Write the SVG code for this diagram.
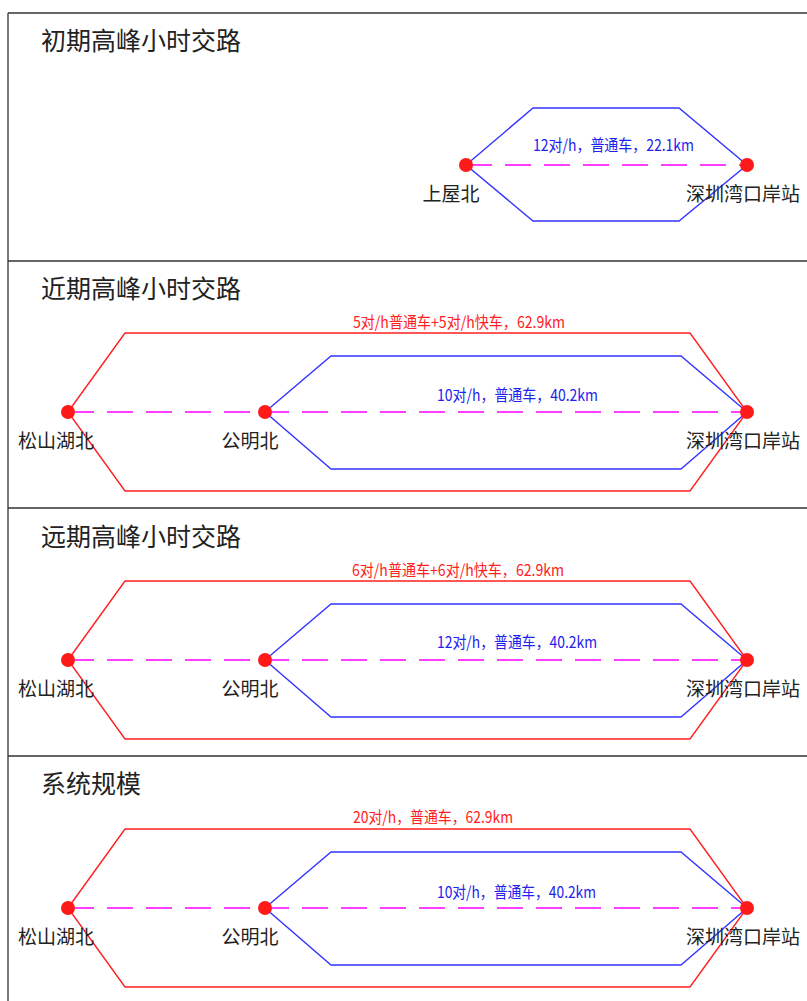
<svg xmlns="http://www.w3.org/2000/svg" width="807" height="1001" viewBox="0 0 807 1001">
<style>
.frame{stroke:#333;stroke-width:1.3;fill:none}
.red{stroke:#ff1f1f;stroke-width:1.4;fill:none}
.blue{stroke:#3535ff;stroke-width:1.4;fill:none}
.dash{stroke:#ff00ff;stroke-width:1.5;stroke-dasharray:26 13;fill:none}
.dot{fill:#ff1a1a}
.title{font-family:"Noto Sans CJK SC",sans-serif;font-size:25px;fill:#222}
.stn{font-family:"Noto Sans CJK SC",sans-serif;font-size:19px;fill:#222;text-anchor:middle}
.lr{font-family:"Noto Sans CJK SC",sans-serif;font-size:16px;fill:#ff2020}
.lb{font-family:"Noto Sans CJK SC",sans-serif;font-size:16px;fill:#2222ee}
</style>
<rect width="807" height="1001" fill="#fff"/>
<g id="frame">
<line class="frame" x1="8" y1="13" x2="807" y2="13"/>
<line class="frame" x1="8" y1="261" x2="807" y2="261"/>
<line class="frame" x1="8" y1="508" x2="807" y2="508"/>
<line class="frame" x1="8" y1="756" x2="807" y2="756"/>
<line class="frame" x1="8" y1="13" x2="8" y2="1001"/>
</g>
<g id="titles">
<text class="title" x="41" y="50">初期高峰小时交路</text>
<text class="title" x="41" y="298">近期高峰小时交路</text>
<text class="title" x="41" y="546">远期高峰小时交路</text>
<text class="title" x="41" y="793">系统规模</text>
</g>
<g id="connectors">
<polygon class="blue" points="466,165 533,108 679,108 747,165 679,221 533,221"/>
<line class="dash" x1="466" y1="165" x2="747" y2="165"/>
<polygon class="red" points="68,412 125,333 690,333 747,412 690,491 125,491"/>
<polygon class="blue" points="265,412 331,356 681,356 747,412 681,469 331,469"/>
<line class="dash" x1="68" y1="412" x2="747" y2="412"/>
<polygon class="red" points="68,660 125,581 690,581 747,660 690,739 125,739"/>
<polygon class="blue" points="265,660 331,604 681,604 747,660 681,717 331,717"/>
<line class="dash" x1="68" y1="660" x2="747" y2="660"/>
<polygon class="red" points="68,908 125,829 690,829 747,908 690,987 125,987"/>
<polygon class="blue" points="265,908 331,852 681,852 747,908 681,965 331,965"/>
<line class="dash" x1="68" y1="908" x2="747" y2="908"/>
</g>
<g id="route-labels">
<text class="lb" x="533" y="151" textLength="161" lengthAdjust="spacingAndGlyphs">12对/h，普通车，22.1km</text>
<text class="lr" x="353" y="328" textLength="212" lengthAdjust="spacingAndGlyphs">5对/h普通车+5对/h快车，62.9km</text>
<text class="lb" x="437" y="401" textLength="161" lengthAdjust="spacingAndGlyphs">10对/h，普通车，40.2km</text>
<text class="lr" x="352" y="576" textLength="212" lengthAdjust="spacingAndGlyphs">6对/h普通车+6对/h快车，62.9km</text>
<text class="lb" x="437" y="648" textLength="160" lengthAdjust="spacingAndGlyphs">12对/h，普通车，40.2km</text>
<text class="lr" x="353" y="823" textLength="160" lengthAdjust="spacingAndGlyphs">20对/h，普通车，62.9km</text>
<text class="lb" x="437" y="898" textLength="159" lengthAdjust="spacingAndGlyphs">10对/h，普通车，40.2km</text>
</g>
<g id="node-p1-shangwubei"><circle class="dot" cx="466" cy="165" r="7"/><text class="stn" x="451" y="201">上屋北</text></g>
<g id="node-p1-shenzhenwan"><circle class="dot" cx="747" cy="165" r="7"/><text class="stn" x="743" y="201">深圳湾口岸站</text></g>
<g id="node-p2-songshanhu"><circle class="dot" cx="68" cy="412" r="7"/><text class="stn" x="56" y="448">松山湖北</text></g>
<g id="node-p2-gongming"><circle class="dot" cx="265" cy="412" r="7"/><text class="stn" x="250" y="448">公明北</text></g>
<g id="node-p2-shenzhenwan"><circle class="dot" cx="747" cy="412" r="7"/><text class="stn" x="743" y="448">深圳湾口岸站</text></g>
<g id="node-p3-songshanhu"><circle class="dot" cx="68" cy="660" r="7"/><text class="stn" x="56" y="696">松山湖北</text></g>
<g id="node-p3-gongming"><circle class="dot" cx="265" cy="660" r="7"/><text class="stn" x="250" y="696">公明北</text></g>
<g id="node-p3-shenzhenwan"><circle class="dot" cx="747" cy="660" r="7"/><text class="stn" x="743" y="696">深圳湾口岸站</text></g>
<g id="node-p4-songshanhu"><circle class="dot" cx="68" cy="908" r="7"/><text class="stn" x="56" y="944">松山湖北</text></g>
<g id="node-p4-gongming"><circle class="dot" cx="265" cy="908" r="7"/><text class="stn" x="250" y="944">公明北</text></g>
<g id="node-p4-shenzhenwan"><circle class="dot" cx="747" cy="908" r="7"/><text class="stn" x="743" y="944">深圳湾口岸站</text></g>
</svg>
